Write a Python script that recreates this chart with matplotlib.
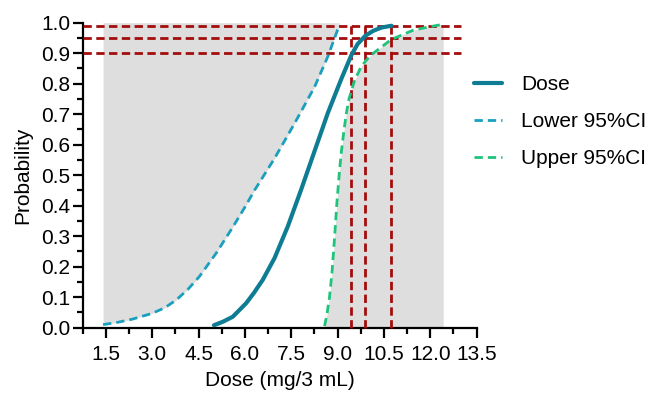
import matplotlib
matplotlib.use("Agg")
import matplotlib.pyplot as plt

#-- data

dose_x = [5.0, 5.3, 5.61, 6.04, 6.3, 6.58, 6.96, 7.39, 7.82, 8.26, 8.69, 9.12, 9.45,
          9.65, 9.9, 10.15, 10.42, 10.75]
dose_y = [0.008, 0.02, 0.036, 0.08, 0.115, 0.157, 0.228, 0.332, 0.452, 0.58, 0.705, 0.815, 0.894,
          0.93, 0.957, 0.973, 0.984, 0.99]

lower_x = [1.41, 1.9, 2.36, 3.0, 3.4, 3.77, 4.15, 4.53, 5.07, 5.61, 6.0, 6.31, 6.96, 7.61,
           8.26, 8.69, 9.05]
lower_y = [0.01, 0.018, 0.028, 0.047, 0.065, 0.09, 0.125, 0.168, 0.244, 0.33, 0.395, 0.45, 0.555, 0.67,
           0.79, 0.89, 0.99]

upper_x = [8.58, 8.66, 8.74, 8.82, 8.9, 8.98, 9.06, 9.12, 9.2, 9.28, 9.37, 9.55, 9.77, 10.0,
           10.2, 10.74, 11.44, 11.9, 12.42]
upper_y = [0.005, 0.045, 0.10, 0.18, 0.29, 0.41, 0.51, 0.573, 0.64, 0.70, 0.75, 0.81, 0.857, 0.885,
           0.903, 0.945, 0.975, 0.985, 0.995]

prob_levels = [0.90, 0.95, 0.99]
dose_at_levels = [9.45, 9.9, 10.72]

x_ticks = [1.5, 3.0, 4.5, 6.0, 7.5, 9.0, 10.5, 12.0, 13.5]
y_ticks = [0.0, 0.1, 0.2, 0.3, 0.4, 0.5, 0.6, 0.7, 0.8, 0.9, 1.0]

#-- styling

plt.rcParams['font.family'] = ['Liberation Sans', 'DejaVu Sans']

DOSE_COLOR = '#0e7d93'
LOWER_COLOR = '#1a9fbf'
UPPER_COLOR = '#1ec47c'
RED = '#a30d0d'
GRAY = '#dedede'


def main():
    fig = plt.figure(figsize=(6.51, 3.96), dpi=100)
    ax = fig.add_axes([0.127, 0.1725, 0.605, 0.7702])

    # shaded region outside the confidence band
    ax.fill_between(lower_x, lower_y, 1.0, color=GRAY, lw=0, zorder=1)
    ax.fill_between(upper_x, 0, upper_y, color=GRAY, lw=0, zorder=1)

    # reference lines
    for p in prob_levels:
        ax.plot([0.75, 13.0], [p, p], color=RED, lw=2.0, dashes=(3, 1.6),
                zorder=3, clip_on=False)
    for d in dose_at_levels:
        ax.plot([d, d], [0, 1.0], color=RED, lw=2.0, dashes=(3, 1.6),
                zorder=3, clip_on=False)

    ax.plot(dose_x, dose_y, color=DOSE_COLOR, lw=3.0, label='Dose', zorder=4,
            solid_capstyle='round', solid_joinstyle='round')
    ax.plot(lower_x, lower_y, color=LOWER_COLOR, lw=2.0, dashes=(3, 1.8),
            label='Lower 95%CI', zorder=4)
    ax.plot(upper_x, upper_y, color=UPPER_COLOR, lw=2.0, dashes=(3, 1.8),
            label='Upper 95%CI', zorder=4)

    ax.set_xlim(0.75, 13.5)
    ax.set_ylim(0, 1.0)
    ax.set_xticks(x_ticks)
    ax.set_xticklabels([f'{t:.1f}' for t in x_ticks])
    ax.set_xticks([t - 0.75 for t in x_ticks], minor=True)
    ax.set_yticks(y_ticks)
    ax.set_yticklabels([f'{t:.1f}' for t in y_ticks])
    ax.set_yticks([t + 0.05 for t in y_ticks[:-1]], minor=True)

    for side in ['top', 'right']:
        ax.spines[side].set_visible(False)
    for side in ['left', 'bottom']:
        ax.spines[side].set_linewidth(1.6)
        ax.spines[side].set_color('black')

    ax.tick_params(which='major', length=7.5, width=1.6, labelsize=15)
    ax.tick_params(which='minor', length=4, width=1.6)
    ax.tick_params(axis='y', which='major', pad=1.5)
    ax.tick_params(axis='x', which='major', pad=5)

    ax.set_xlabel('Dose (mg/3 mL)', fontsize=15, labelpad=5)
    ax.set_ylabel('Probability', fontsize=15, labelpad=6)

    ax.legend(loc='upper left', bbox_to_anchor=(0.728, 0.81),
              bbox_transform=fig.transFigure, frameon=False, fontsize=15,
              handlelength=1.35, handletextpad=0.9, labelspacing=0.86,
              borderpad=0, borderaxespad=0)

    fig.savefig('out.png', dpi=100)


if __name__ == "__main__":
    main()
